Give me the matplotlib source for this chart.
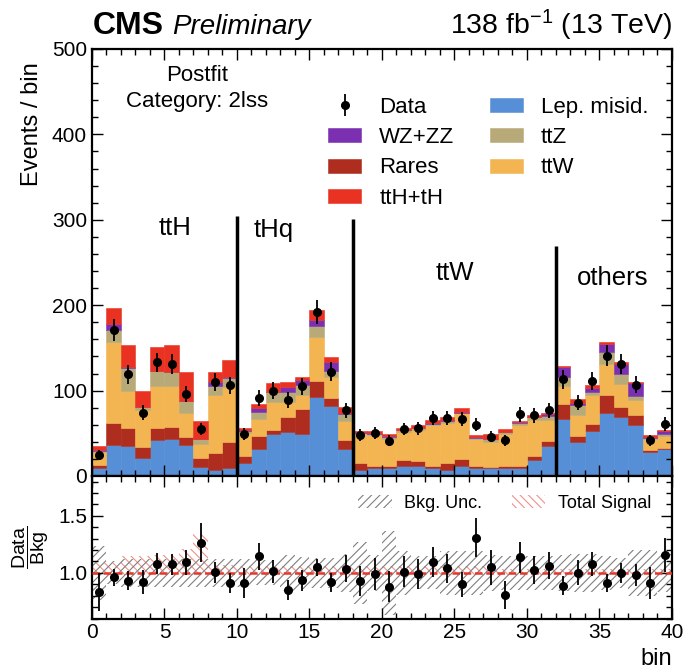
import numpy as np
import matplotlib.pyplot as plt
from matplotlib.ticker import MultipleLocator, FormatStrFormatter

plt.rcParams['font.family'] = ['Liberation Sans', 'DejaVu Sans']
plt.rcParams['mathtext.fontset'] = 'custom'
plt.rcParams['mathtext.rm'] = 'Liberation Sans'
plt.rcParams['mathtext.it'] = 'Liberation Sans:italic'
plt.rcParams['mathtext.bf'] = 'Liberation Sans:bold'
plt.rcParams['hatch.linewidth'] = 0.8

# postfit yields per bin, 2lss category
lep_misid = [9.8, 36.4, 34.8, 20.7, 42.3, 43.8, 36.4, 10.6, 6.6, 9.8,
             15.6, 32.1, 48.9, 51.6, 49.7, 91.9, 82.2, 32.1, 7.0, 9.8,
             9.4, 11.7, 11.3, 9.0, 7.0, 11.7, 9.8, 9.4, 9.4, 9.0,
             18.8, 35.2, 67.3, 39.9, 52.8, 73.2, 69.2, 59.5, 28.5, 31.3]
rares = [2.7, 25.4, 21.9, 13.7, 14.4, 13.7, 9.4, 10.1, 20.0, 30.1,
         7.9, 14.9, 4.7, 17.6, 28.5, 18.8, 8.6, 9.8, 8.6, 2.2,
         2.6, 6.7, 6.3, 3.0, 7.9, 7.9, 1.9, 1.5, 2.3, 2.7,
         4.7, 5.9, 16.8, 7.1, 8.6, 21.9, 11.8, 11.7, 2.0, 2.0]
ttw = [16.0, 94.7, 43.1, 42.7, 48.9, 47.4, 27.4, 17.3, 68.1, 63.8,
       27.4, 19.5, 33.3, 18.0, 16.5, 51.7, 25.4, 21.9, 33.3, 35.7,
       31.8, 33.6, 36.4, 47.5, 47.7, 53.6, 31.3, 29.4, 38.0, 47.8,
       41.8, 24.2, 21.5, 24.2, 33.0, 36.0, 26.6, 17.6, 12.5, 13.7]
ttz = [1.2, 14.5, 26.6, 3.1, 16.9, 16.4, 14.1, 5.0, 10.2, 10.9,
       1.9, 9.0, 10.9, 10.6, 11.7, 13.6, 6.8, 8.6, 2.0, 1.9,
       2.0, 1.6, 1.9, 1.9, 1.9, 0.8, 2.0, 2.7, 1.9, 3.1,
       3.2, 5.1, 9.8, 12.1, 3.4, 14.4, 11.7, 4.3, 1.3, 1.9]
wz_zz = [0.3, 7.0, 1.4, 0.3, 0.5, 0.7, 0.5, 0.5, 4.7, 1.6,
         1.1, 3.9, 0.7, 6.7, 5.9, 7.1, 10.0, 1.9, 0.7, 0.9,
         0.8, 0.8, 0.8, 0.8, 0.8, 0.5, 0.8, 0.8, 0.4, 0.8,
         0.7, 2.0, 11.7, 2.5, 5.1, 9.0, 11.8, 15.7, 1.9, 3.9]
tth_th = [5.2, 18.8, 25.6, 19.3, 27.6, 31.4, 33.5, 20.3, 11.7, 19.8,
          2.8, 4.7, 9.9, 5.8, 3.9, 11.7, 5.9, 5.9, 1.2, 2.3,
          2.3, 1.6, 2.8, 3.5, 3.2, 4.9, 2.3, 5.9, 2.8, 1.2,
          2.4, 1.9, 1.2, 4.2, 3.5, 2.0, 2.7, 1.6, 1.5, 1.2]
data = [25, 171, 119, 74, 133, 131, 96, 55, 110, 106,
        49, 91, 100, 89, 105, 192, 122, 77, 48, 50,
        41, 55, 56, 68, 68, 67, 60, 46, 42, 72,
        71, 77, 113, 86, 111, 141, 131, 107, 42, 61]

# relative background uncertainty and signal band height in the ratio
bkg_unc = [0.235, 0.10, 0.125, 0.125, 0.12, 0.12, 0.12, 0.12, 0.125, 0.125,
           0.12, 0.11, 0.11, 0.155, 0.14, 0.13, 0.13, 0.17, 0.27, 0.16,
           0.37, 0.19, 0.145, 0.145, 0.19, 0.19, 0.19, 0.16, 0.15, 0.15,
           0.15, 0.15, 0.16, 0.17, 0.17, 0.15, 0.13, 0.20, 0.20, 0.17]
sig_frac = [0.09, 0.09, 0.15, 0.15, 0.16, 0.16, 0.21, 0.34, 0.07, 0.07,
            0.06, 0.06, 0.06, 0.06, 0.06, 0.06, 0.06, 0.06, 0.06, 0.06,
            0.06, 0.06, 0.06, 0.06, 0.06, 0.06, 0.06, 0.06, 0.03, 0.03,
            0.03, 0.03, 0.03, 0.03, 0.03, 0.03, 0.03, 0.03, 0.03, 0.03]

regions = ['ttH', 'tHq', 'ttW', 'others']
region_x = [5.7, 12.5, 25.0, 35.9]
region_y = [290, 288, 238, 232]
boundaries = [10, 18, 32]
boundary_top = [305, 301, 269]

processes = [
    ('Lep. misid.', lep_misid, '#578FD6'),
    ('Rares', rares, '#AF2D1E'),
    ('ttW', ttw, '#F3B452'),
    ('ttZ', ttz, '#B8AA78'),
    ('WZ+ZZ', wz_zz, '#7A30B0'),
    ('ttH+tH', tth_th, '#EA3223'),
]

edges = np.arange(41)
centers = edges[:-1] + 0.5

fig = plt.figure(figsize=(6.88, 6.72), dpi=100)
ax = fig.add_axes([0.1337, 0.2917, 0.843, 0.6354])
rax = fig.add_axes([0.1337, 0.0796, 0.843, 0.2121])

bottom = np.zeros(40)
handles = {}
for name, vals, col in processes:
    vals = np.array(vals)
    handles[name] = ax.bar(edges[:-1], vals, width=1, bottom=bottom, align='edge',
                           color=col, edgecolor=col, linewidth=0.4)
    bottom += vals

data = np.array(data, dtype=float)
err = np.sqrt(data)
handles['Data'] = ax.errorbar(centers, data, yerr=err, fmt='o', color='black',
                              ms=5.5, elinewidth=1.3, capsize=0, zorder=5)

ax.vlines(boundaries, 0, boundary_top, color='black', lw=2.5, zorder=4)
for lab, x, y in zip(regions, region_x, region_y):
    ax.text(x, y, lab, ha='center', va='center', fontsize=18.5)

ax.text(0.181, 0.939, 'Postfit', transform=ax.transAxes, ha='center', va='center', fontsize=16)
ax.text(0.181, 0.876, 'Category: 2lss', transform=ax.transAxes, ha='center', va='center', fontsize=16)

order = ['Data', 'WZ+ZZ', 'Rares', 'ttH+tH', 'Lep. misid.', 'ttZ', 'ttW']
ax.legend([handles[k] for k in order], order, ncol=2, loc='upper left',
          bbox_to_anchor=(0.407, 0.888), frameon=False, fontsize=16, borderpad=0,
          borderaxespad=0, handlelength=1.5, handleheight=0.6, handletextpad=0.8,
          columnspacing=1.6, labelspacing=0.42)

ax.set_xlim(0, 40)
ax.set_ylim(0, 500)
ax.set_ylabel('Events / bin', fontsize=17, loc='top')
ax.yaxis.set_label_coords(-0.085, 0.97)
ax.yaxis.set_major_locator(MultipleLocator(100))
ax.yaxis.set_minor_locator(MultipleLocator(20))
ax.tick_params(labelbottom=False)

# ratio panel
bkg = bottom - np.array(tth_th)
ratio = data / bkg
ratio_err = err / bkg
bkg_unc = np.array(bkg_unc)
sig_frac = np.array(sig_frac)

h_sig = rax.bar(edges[:-1], sig_frac + 0.015, bottom=0.985, width=1, align='edge',
                facecolor='none', edgecolor='#F0908A', hatch='\\\\\\\\', linewidth=0)
h_unc = rax.bar(edges[:-1], 2 * bkg_unc, bottom=1 - bkg_unc, width=1, align='edge',
                facecolor='none', edgecolor='#7F7F7F', hatch='////', linewidth=0)
rax.axhline(1.0, color='#E8362B', lw=1.8, ls=(0, (3, 1.5)), zorder=3)
rax.errorbar(centers, ratio, yerr=ratio_err, fmt='o', color='black',
             ms=5.5, elinewidth=1.3, capsize=0, zorder=5)
rax.legend([h_unc, h_sig], ['Bkg. Unc.', 'Total Signal'], ncol=2, loc='upper left',
           bbox_to_anchor=(0.459, 0.87), frameon=False, fontsize=13, borderpad=0,
           borderaxespad=0, handlelength=1.85, handleheight=0.72, handletextpad=0.7,
           columnspacing=1.65)

rax.set_xlim(0, 40)
rax.set_ylim(0.6, 1.85)
rax.yaxis.set_major_locator(MultipleLocator(0.5))
rax.yaxis.set_minor_locator(MultipleLocator(0.1))
rax.yaxis.set_major_formatter(FormatStrFormatter('%.1f'))
rax.set_xlabel('bin', fontsize=17, loc='right')
rax.set_ylabel(r'$\dfrac{\mathrm{Data}}{\mathrm{Bkg}}$', fontsize=14)
rax.yaxis.set_label_coords(-0.07, 0.5)

for a in (ax, rax):
    a.xaxis.set_major_locator(MultipleLocator(5))
    a.xaxis.set_minor_locator(MultipleLocator(1))
    a.tick_params(which='both', direction='in', top=True, right=True, labelsize=15)
    a.tick_params(which='major', length=8, width=1)
    a.tick_params(which='minor', length=4, width=1)
    for s in a.spines.values():
        s.set_linewidth(1.6)

fig.text(93 / 688, 1 - 34 / 672, 'CMS', fontsize=23, fontweight='bold', va='baseline')
fig.text(172 / 688, 1 - 34 / 672, 'Preliminary', fontsize=20, style='italic', va='baseline')
fig.text(672 / 688, 1 - 34 / 672, r'138 fb$^{-1}$ (13 TeV)', fontsize=20.5, ha='right', va='baseline')

fig.savefig('out.png', dpi=100)
